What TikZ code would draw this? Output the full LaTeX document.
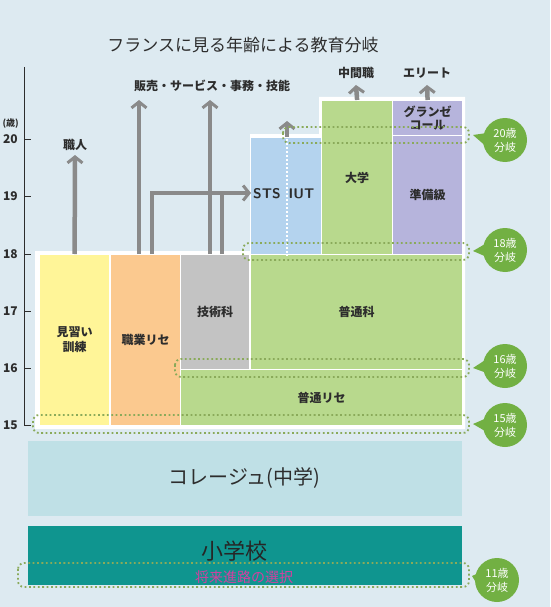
\documentclass[tikz,border=0pt]{standalone}
\usepackage{fontspec}
\newfontfamily\jp{Noto Sans CJK JP}
\usetikzlibrary{arrows.meta,calc}
\definecolor{bgc}{RGB}{221,234,241}
\definecolor{yel}{RGB}{255,245,152}
\definecolor{ora}{RGB}{251,201,143}
\definecolor{gry}{RGB}{195,195,195}
\definecolor{grn}{RGB}{184,217,141}
\definecolor{blu}{RGB}{180,211,238}
\definecolor{pur}{RGB}{182,180,220}
\definecolor{col}{RGB}{191,224,230}
\definecolor{tea}{RGB}{15,149,143}
\definecolor{arrc}{RGB}{138,138,138}
\definecolor{dotc}{RGB}{138,170,90}
\definecolor{bubc}{RGB}{114,176,67}
\definecolor{mag}{RGB}{214,63,160}
\definecolor{txt}{RGB}{45,45,45}
\begin{document}
\begin{tikzpicture}[x=1pt,y=-1pt,
  box/.style={draw=white,line width=1.2pt,inner sep=0pt,anchor=north west,align=center,
    font=\jp\bfseries\fontsize{12}{15}\selectfont,text=txt},
  lbl/.style={font=\jp\bfseries\fontsize{12}{14}\selectfont,text=txt,inner sep=1pt},
  tick/.style={font=\jp\bfseries\fontsize{12}{14}\selectfont,text=txt,anchor=east,inner sep=1pt},
  arr/.style={draw=arrc,line width=4.5pt,-{Straight Barb[length=6pt,width=15pt,line width=3pt]}},
  shaft/.style={draw=arrc,line width=4.5pt},
  dots/.style={draw=dotc,line width=1.8pt,dash pattern=on 1.8pt off 2.6pt,rounded corners=6pt},
  bubble/.style={circle,fill=bubc,minimum size=44pt,inner sep=0pt,align=center,text=white,
    font=\jp\fontsize{11}{14}\selectfont}]
\useasboundingbox (0,0) rectangle (550,607);
\fill[bgc] (0,0) rectangle (550,607);
% title
\node[font=\jp\fontsize{17}{20}\selectfont,text=txt] (title) at (243,45) {フランスに見る年齢による教育分岐};
% axis
\coordinate (axtop) at (24,67);
\coordinate (axbot) at (24,425);
\draw[txt,line width=1pt] (axtop) -- (axbot);
\node[font=\jp\bfseries\fontsize{9}{10}\selectfont,text=txt,anchor=east,inner sep=0pt] (unit) at (19,124) {(歳)};
\foreach \v/\yy in {20/139,19/196,18/254,17/311,16/368,15/425}{
  \draw[txt,line width=1pt] (24,\yy) -- (31,\yy);
  \node[tick] (t\v) at (19,\yy) {\v};
}
% white backing panel
\fill[white] (35,251) -- (250,251) -- (250,134) -- (319,134) -- (319,97) -- (465,97) -- (465,429) -- (35,429) -- cycle;
% boxes
\node[box,fill=yel,minimum width=70pt,minimum height=171pt] (minarai) at (39,254) {見習い\\訓練};
\node[box,fill=ora,minimum width=70pt,minimum height=171pt] (shokugyo) at (110,254) {職業リセ};
\node[box,fill=gry,minimum width=69pt,minimum height=115pt] (gijutsu) at (180,254) {技術科};
\node[box,fill=grn,minimum width=282pt,minimum height=56pt] (futsulyc) at (180,369) {普通リセ};
\node[box,fill=grn,minimum width=212pt,minimum height=115pt] (futsuka) at (250,254) {普通科};
\node[box,fill=blu,minimum width=71pt,minimum height=117pt] (sts) at (250,137) {};
\node[box,fill=grn,minimum width=71pt,minimum height=154pt] (daigaku) at (321,100) {大学};
\node[box,fill=pur,minimum width=70pt,minimum height=35pt,font=\jp\bfseries\fontsize{12}{13}\selectfont] (grande) at (392,100) {グランゼ\\コール};
\node[box,fill=pur,minimum width=70pt,minimum height=119pt] (junbi) at (392,135) {準備級};
\draw[white,line width=1.5pt,dash pattern=on 1.5pt off 2.5pt] (sts.north) ++(1,2) -- ($(sts.south)+(1,0)$);
\node[font=\sffamily\bfseries\fontsize{14}{16}\selectfont,text=txt,anchor=west,inner sep=0pt] (stslbl) at (253,194) {STS\hspace{3pt} IUT};
\node[box,fill=col,draw=none,minimum width=434pt,minimum height=75pt,font=\jp\fontsize{20}{22}\selectfont] (college) at (27,440) {コレージュ(中学)};
\node[box,fill=tea,draw=none,minimum width=434pt,minimum height=59pt,text=black,anchor=north west] (shogakko) at (27,525) {};
\node[font=\jp\fontsize{22}{24}\selectfont,text=black!85] (shoglbl) at (234,551) {小学校};
\node[font=\jp\fontsize{14}{16}\selectfont,text=mag] (shinro) at (244,577) {将来進路の選択};
% labels for destinations
\node[lbl] (shokunin) at (75,145) {職人};
\node[lbl] (hanbai) at (212,86) {販売・サービス・事務・技能};
\node[lbl] (chukan) at (356,73) {中間職};
\node[lbl] (elite) at (427,73) {エリート};
% arrows
\coordinate (a1) at (75,155);
\draw[arr] (minarai.north) -- (a1);
\coordinate (s1) at (139,254); \coordinate (e1) at (139,100);
\coordinate (s2) at (210,254); \coordinate (e2) at (210,100);
\draw[arr] (s1) -- (e1);
\draw[arr] (s2) -- (e2);
\coordinate (s3) at (152,254); \coordinate (e3) at (251,193);
\draw[arr] (s3) |- (e3);
\coordinate (s4) at (222,254); \coordinate (j4) at (222,193);
\draw[shaft] (s4) -- (j4);
\coordinate (s5) at (287,137); \coordinate (e5) at (287,121);
\draw[arr] (s5) -- (e5);
\coordinate (e6) at (356,85);
\draw[arr] (daigaku.north) -- (e6);
\coordinate (e7) at (427,85);
\draw[arr] (grande.north) -- (e7);
% dotted brackets
\draw[dots] (283,127) rectangle (469,143);
\draw[dots] (243,243) rectangle (469,260);
\draw[dots] (175,359) rectangle (469,377);
\draw[dots] (33,415) rectangle (469,433);
\draw[dots] (18,563) rectangle (469,587);
% bubbles
\foreach \t/\yy/\cy in {20/140/135,18/250/251,16/366/368,15/425/424}{
  \node[bubble] (b\t) at (505,\yy) {\t 歳\\分岐};
  \fill[bubc] ($(b\t.west)+(4,-7)$) -- (473,\cy) -- ($(b\t.west)+(4,7)$) -- cycle;
}
\node[bubble] (b11) at (497,580) {11歳\\分岐};
\fill[bubc] ($(b11.west)+(4,-7)$) -- (472,576) -- ($(b11.west)+(4,7)$) -- cycle;
\end{tikzpicture}
\end{document}
